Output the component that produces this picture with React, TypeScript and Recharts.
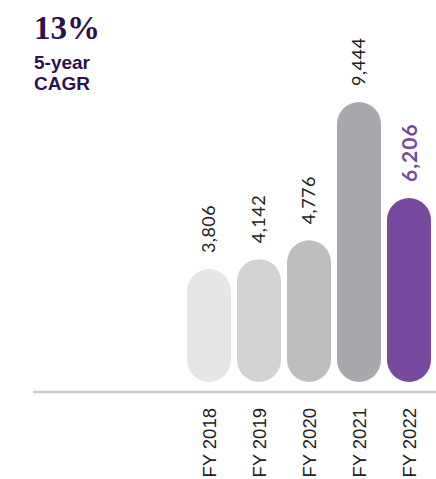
import { BarChart, Bar, XAxis, YAxis, Cell, LabelList } from 'recharts'

const years = ['FY 2018', 'FY 2019', 'FY 2020', 'FY 2021', 'FY 2022']
const values = [3806, 4142, 4776, 9444, 6206]
const colors = ['#e5e6e8', '#d2d3d5', '#bdbec0', '#a8a9ac', '#764a9e']

const data = years.map((year, i) => ({ year, value: values[i] }))

const ValueLabel = (props: any) => {
  const { x, y, width, value, index } = props
  const last = index === values.length - 1
  const cx = x + width / 2
  const ty = y - 16
  return (
    <text
      x={cx}
      y={ty}
      transform={`rotate(-90 ${cx} ${ty})`}
      textAnchor="start"
      dy="0.36em"
      fontFamily="Lato, 'Open Sans', sans-serif"
      fontSize={last ? 21 : 18}
      fontWeight={last ? 700 : 400}
      fill={last ? '#764a9e' : '#222'}
      letterSpacing={last ? 1 : 0.5}
    >
      {Number(value).toLocaleString('en-US')}
    </text>
  )
}

const YearTick = (props: any) => {
  const { x, y, payload } = props
  const ty = y + 8
  return (
    <text
      x={x}
      y={ty}
      transform={`rotate(-90 ${x} ${ty})`}
      textAnchor="end"
      dy="0.36em"
      fontFamily="'Liberation Sans', Arial, sans-serif"
      fontSize={18.5}
      fill="#222"
    >
      {payload.value}
    </text>
  )
}

export default function App() {
  return (
    <div style={{ position: 'absolute', left: 0, top: 0, width: 436, height: 479, background: '#fff', overflow: 'hidden' }}>
      <div style={{ position: 'absolute', left: 34, top: 9, color: '#2b1150' }}>
        <div style={{ fontFamily: "'Liberation Serif', serif", fontWeight: 700, fontSize: 33, lineHeight: '38px' }}>13%</div>
        <div style={{ fontFamily: "'Liberation Sans', Arial, sans-serif", fontWeight: 700, fontSize: 19, lineHeight: '21px', marginTop: 5 }}>
          5-year
          <br />
          CAGR
        </div>
      </div>
      <BarChart
        width={436}
        height={479}
        data={data}
        margin={{ top: 102, right: 0, bottom: 0, left: 33 }}
        barSize={44}
      >
        <YAxis hide domain={[-340, 9444]} />
        <XAxis
          dataKey="year"
          height={87}
          padding={{ left: 151, right: 2 }}
          axisLine={{ stroke: '#cfcfcf', strokeWidth: 2.5 }}
          tickLine={false}
          tickSize={0}
          tickMargin={8}
          tick={<YearTick />}
          interval={0}
        />
        <Bar dataKey="value" radius={22} isAnimationActive={false}>
          {data.map((d, i) => (
            <Cell key={d.year} fill={colors[i]} />
          ))}
          <LabelList dataKey="value" content={<ValueLabel />} />
        </Bar>
      </BarChart>
    </div>
  )
}
